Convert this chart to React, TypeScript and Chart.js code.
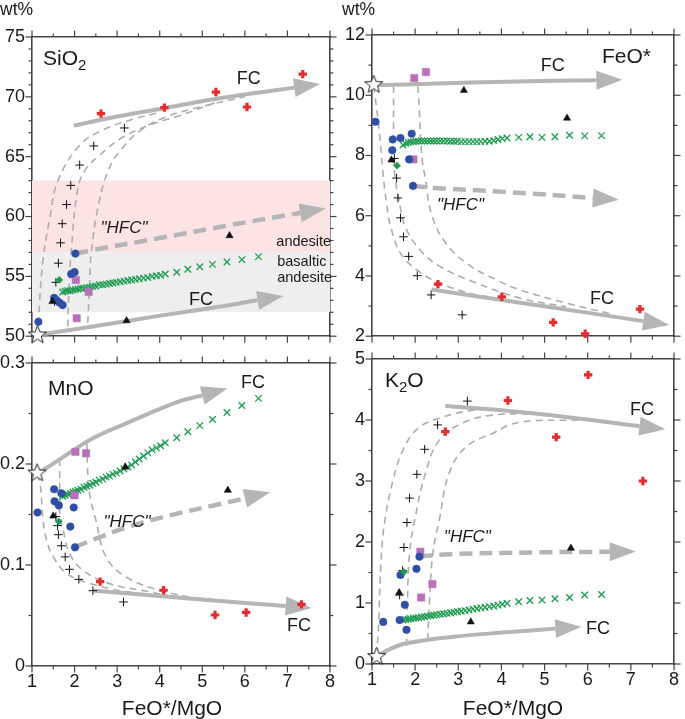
import React, { useEffect, useRef } from "react";
import { Chart, registerables } from "chart.js";

Chart.register(...registerables);

const FONT = '"Liberation Sans", Arial, Helvetica, sans-serif';
Chart.defaults.font.family = FONT;

const AXIS = "#444444";
const RED = "#e42d2f";
const BLUE = "#2f4fa5";
const PURPLE = "#b96fba";
const GREEN = "#1f9b52";
const GRAY = "#b5b5b5";
const DASHGRAY = "#adadad";

type P = [number, number];

// ---------- shared model FeO*/MgO values (green x series)
const MODEL_X = [1.72, 1.78, 1.84, 1.9, 1.96, 2.02, 2.08, 2.15, 2.22, 2.29, 2.36, 2.43, 2.5, 2.58, 2.66, 2.74, 2.82, 2.9, 2.98, 3.07, 3.16, 3.25, 3.34, 3.43, 3.52, 3.62, 3.72, 3.82, 3.92, 4.02, 4.13, 4.4, 4.66, 4.94, 5.24, 5.58, 5.93, 6.32];

// ---------- SiO2
const SIO2_MODEL = [53.7, 53.75, 53.8, 53.8, 53.85, 53.9, 53.95, 54.0, 54.0, 54.05, 54.1, 54.15, 54.2, 54.3, 54.3, 54.35, 54.4, 54.45, 54.5, 54.55, 54.6, 54.65, 54.7, 54.75, 54.8, 54.85, 54.9, 55.0, 55.05, 55.1, 55.2, 55.35, 55.6, 55.8, 56.0, 56.2, 56.4, 56.65];
const SIO2_RED: P[] = [[2.62, 68.6], [4.11, 69.1], [5.32, 70.4], [6.05, 69.15], [7.36, 71.9]];
const SIO2_PLUS: P[] = [[1.53, 52.9], [1.56, 54.5], [1.62, 56.1], [1.67, 57.8], [1.71, 59.4], [1.81, 61.0], [1.91, 62.6], [2.12, 64.3], [2.45, 65.9], [3.17, 67.4]];
const SIO2_BLUE: P[] = [[1.15, 51.2], [2.02, 56.9], [1.92, 55.2], [2.0, 55.35], [1.52, 53.2], [1.58, 53.0], [1.65, 52.8], [1.72, 52.6]];
const SIO2_PURPLE: P[] = [[2.03, 54.7], [2.33, 53.7], [2.05, 51.5]];
const SIO2_DIAMOND: P[] = [[1.64, 54.7]];
const SIO2_TRI: P[] = [[1.48, 52.9], [3.22, 51.3], [5.64, 58.4]];
const SIO2_STAR: P[] = [[1.13, 50.1]];
const SIO2_FC_UP: P[] = [[1.98, 67.6], [3.0, 68.35], [4.1, 69.05], [5.2, 69.75], [6.2, 70.3], [7.16, 70.77]];
const SIO2_FC_LOW: P[] = [[1.13, 50.1], [2.5, 50.85], [3.98, 51.7], [5.2, 52.35], [6.3, 53.0]];
const SIO2_HFC: P[] = [[2.02, 56.9], [2.35, 57.15], [4.0, 58.2], [5.6, 59.25], [7.3, 60.3]];
const SIO2_C1: P[] = [[1.16, 51.0], [1.18, 53.0], [1.26, 56.4], [1.42, 59.9], [1.61, 63.0], [2.12, 65.95], [2.65, 67.2], [3.35, 68.1], [4.0, 68.7]];
const SIO2_C2: P[] = [[1.84, 50.8], [1.87, 54.0], [1.93, 57.5], [2.08, 62.4], [2.27, 64.0], [2.58, 65.1], [3.12, 66.6], [3.81, 67.7], [4.44, 68.4], [5.3, 69.5]];
const SIO2_C3: P[] = [[2.31, 51.1], [2.35, 54.0], [2.39, 56.9], [2.58, 61.3], [2.81, 64.0], [3.05, 65.4], [3.51, 67.1], [4.13, 68.3], [5.0, 69.2], [6.0, 70.0]];
const SIO2_BANDS = [
  { lo: 57, hi: 63, color: "#fde4e4" },
  { lo: 52, hi: 57, color: "#eeeeee" },
];

// ---------- FeO*
const FEO_MODEL = [8.35, 8.4, 8.43, 8.45, 8.46, 8.47, 8.47, 8.48, 8.48, 8.48, 8.48, 8.48, 8.48, 8.48, 8.48, 8.48, 8.47, 8.47, 8.47, 8.46, 8.46, 8.46, 8.46, 8.46, 8.46, 8.47, 8.47, 8.5, 8.53, 8.56, 8.58, 8.6, 8.62, 8.6, 8.62, 8.67, 8.65, 8.66];
const FEO_RED: P[] = [[2.53, 3.73], [4.01, 3.31], [5.2, 2.46], [5.94, 2.08], [7.21, 2.9]];
const FEO_PLUS: P[] = [[1.52, 7.9], [1.57, 7.25], [1.6, 6.59], [1.66, 5.93], [1.73, 5.3], [1.85, 4.65], [2.05, 4.01], [2.37, 3.37], [3.09, 2.71]];
const FEO_BLUE: P[] = [[1.08, 9.12], [1.48, 8.53], [1.66, 8.58], [1.92, 8.72], [1.47, 8.17], [1.86, 7.87], [1.95, 6.99]];
const FEO_PURPLE: P[] = [[1.98, 10.57], [2.25, 10.77], [1.96, 7.87]];
const FEO_DIAMOND: P[] = [[1.58, 7.66]];
const FEO_TRI: P[] = [[1.45, 7.85], [3.13, 10.16], [5.52, 9.24]];
const FEO_STAR: P[] = [[1.04, 10.35]];
const FEO_FC_UP: P[] = [[1.04, 10.33], [2.5, 10.39], [4.1, 10.45], [5.2, 10.48], [6.2, 10.5]];
const FEO_FC_LOW: P[] = [[2.38, 3.55], [3.3, 3.35], [4.4, 3.12], [5.9, 2.8], [7.29, 2.5]];
const FEO_HFC: P[] = [[1.95, 6.99], [2.45, 6.92], [4.1, 6.79], [6.12, 6.59]];
const FEO_C1: P[] = [[1.04, 10.3], [1.07, 9.98], [1.17, 8.78], [1.25, 7.5], [1.33, 6.48], [1.44, 5.6], [1.67, 4.73], [2.05, 4.19], [2.51, 3.8], [3.28, 3.42], [4.2, 3.2]];
const FEO_C2: P[] = [[1.5, 10.3], [1.5, 9.98], [1.5, 8.8], [1.52, 7.5], [1.63, 6.48], [1.78, 5.6], [2.13, 4.84], [2.59, 4.3], [3.36, 3.8], [4.44, 3.26], [5.5, 2.98]];
const FEO_C3: P[] = [[2.06, 10.3], [2.08, 9.98], [2.16, 7.9], [2.25, 7.14], [2.36, 6.15], [2.67, 5.17], [3.21, 4.4], [3.9, 3.86], [4.44, 3.53], [5.5, 3.1], [6.6, 2.72]];

// ---------- MnO
const MNO_MODEL = [0.168, 0.169, 0.17, 0.171, 0.172, 0.173, 0.174, 0.175, 0.177, 0.178, 0.179, 0.181, 0.182, 0.184, 0.185, 0.187, 0.188, 0.19, 0.191, 0.193, 0.195, 0.197, 0.199, 0.202, 0.205, 0.208, 0.211, 0.214, 0.216, 0.218, 0.221, 0.226, 0.232, 0.238, 0.244, 0.251, 0.258, 0.265];
const MNO_RED: P[] = [[2.6, 0.0835], [4.09, 0.075], [5.3, 0.0505], [6.03, 0.053], [7.33, 0.061]];
const MNO_PLUS: P[] = [[1.56, 0.148], [1.6, 0.139], [1.62, 0.13], [1.69, 0.119], [1.78, 0.108], [1.88, 0.0957], [2.1, 0.0858], [2.43, 0.0746], [3.15, 0.0634]];
const MNO_BLUE: P[] = [[1.13, 0.152], [1.52, 0.175], [1.53, 0.163], [1.69, 0.171], [1.63, 0.159], [1.98, 0.157], [1.9, 0.138], [2.01, 0.1175]];
const MNO_PURPLE: P[] = [[2.02, 0.212], [2.27, 0.2106], [2.0, 0.169]];
const MNO_DIAMOND: P[] = [[1.63, 0.143]];
const MNO_TRI: P[] = [[1.5, 0.1485], [3.19, 0.197], [5.6, 0.174]];
const MNO_STAR: P[] = [[1.12, 0.191]];
const MNO_FC_UP: P[] = [[1.12, 0.191], [1.26, 0.194], [1.81, 0.209], [2.43, 0.2254], [3.2, 0.24], [4.44, 0.2617], [5.0, 0.268]];
const MNO_FC_LOW: P[] = [[2.45, 0.0746], [3.5, 0.071], [4.91, 0.066], [6.96, 0.0594]];
const MNO_HFC: P[] = [[2.01, 0.1175], [2.12, 0.1198], [3.51, 0.141], [6.0, 0.166]];
const MNO_C1: P[] = [[1.12, 0.19], [1.19, 0.181], [1.26, 0.145], [1.34, 0.125], [1.5, 0.108], [1.81, 0.0918], [2.35, 0.0818], [3.2, 0.0736], [4.2, 0.069]];
const MNO_C2: P[] = [[1.65, 0.205], [1.65, 0.174], [1.66, 0.148], [1.73, 0.135], [1.88, 0.1116], [2.19, 0.095], [2.81, 0.0818], [3.74, 0.0736], [4.6, 0.067], [5.4, 0.064]];
const MNO_C3: P[] = [[2.29, 0.22], [2.3, 0.2], [2.35, 0.171], [2.5, 0.1445], [2.74, 0.108], [3.2, 0.0884], [3.98, 0.0752], [4.91, 0.067], [6.0, 0.063]];

// ---------- K2O
const K2O_MODEL = [0.72, 0.73, 0.735, 0.74, 0.75, 0.755, 0.76, 0.77, 0.775, 0.785, 0.79, 0.8, 0.81, 0.815, 0.825, 0.83, 0.84, 0.85, 0.86, 0.865, 0.875, 0.885, 0.9, 0.91, 0.92, 0.93, 0.94, 0.95, 0.965, 0.98, 0.995, 1.02, 1.04, 1.05, 1.07, 1.09, 1.13, 1.14];
const K2O_RED: P[] = [[2.7, 3.81], [4.15, 4.32], [5.27, 3.72], [6.01, 4.74], [7.28, 3.0]];
const K2O_PLUS: P[] = [[1.64, 1.13], [1.71, 1.53], [1.74, 1.91], [1.81, 2.32], [1.87, 2.72], [2.04, 3.11], [2.22, 3.52], [2.52, 3.92], [3.21, 4.31]];
const K2O_BLUE: P[] = [[1.26, 0.69], [1.64, 0.72], [1.8, 0.56], [1.76, 0.97], [1.66, 1.46], [2.03, 1.56], [2.1, 1.76]];
const K2O_PURPLE: P[] = [[2.12, 1.84], [2.4, 1.31], [2.14, 1.09]];
const K2O_DIAMOND: P[] = [[1.74, 1.51]];
const K2O_TRI: P[] = [[1.63, 1.17], [3.29, 0.69], [5.61, 1.9]];
const K2O_STAR: P[] = [[1.11, 0.12]];
const K2O_FC_UP: P[] = [[2.7, 4.23], [4.0, 4.16], [5.5, 4.05], [7.2, 3.9]];
const K2O_FC_LOW: P[] = [[1.11, 0.12], [1.4, 0.24], [1.8, 0.34], [2.95, 0.45], [4.1, 0.52], [5.25, 0.58]];
const K2O_HFC: P[] = [[2.1, 1.76], [2.79, 1.8], [4.86, 1.83], [6.51, 1.84]];
const K2O_C1: P[] = [[1.11, 0.14], [1.12, 0.3], [1.14, 0.45], [1.22, 1.81], [1.3, 2.36], [1.49, 3.02], [1.72, 3.51], [2.06, 3.86], [2.56, 4.03], [3.33, 4.16], [4.0, 4.18]];
const K2O_C2: P[] = [[1.8, 0.3], [1.82, 1.0], [1.87, 1.81], [1.99, 2.36], [2.26, 3.18], [2.56, 3.67], [3.1, 3.95], [3.79, 4.08], [4.8, 4.1]];
const K2O_C3: P[] = [[2.29, 0.39], [2.33, 1.0], [2.41, 1.81], [2.56, 2.36], [2.79, 3.13], [3.18, 3.56], [3.79, 3.78], [4.4, 3.96], [5.8, 4.0]];

// ---------- axes
const X_MIN = 1, X_MAX = 8, X_STEP = 1, X_MINOR = 0.5;

// ---------- helpers
const xy = (pts: P[]) => pts.map(([x, y]) => ({ x, y }));
const zip = (xs: number[], ys: number[]) => xs.map((x, i) => ({ x, y: ys[i] }));

let starImg: HTMLCanvasElement | null = null;
function getStar() {
  if (starImg) return starImg;
  const r = 9.5;
  const s = Math.ceil(r * 2 + 4);
  const c = document.createElement("canvas");
  c.width = s; c.height = s;
  const g = c.getContext("2d")!;
  g.beginPath();
  for (let i = 0; i < 10; i++) {
    const a = -Math.PI / 2 + (i * Math.PI) / 5;
    const rr = i % 2 === 0 ? r : r * 0.42;
    g.lineTo(s / 2 + rr * Math.cos(a), s / 2 + rr * Math.sin(a));
  }
  g.closePath();
  g.fillStyle = "#fff"; g.fill();
  g.strokeStyle = "#222"; g.lineWidth = 1; g.stroke();
  starImg = c;
  return c;
}

type TextItem = { t: string; x: number; y: number; size: number; align?: CanvasTextAlign; base?: CanvasTextBaseline; italic?: boolean };
type TitlePart = { t: string; size: number; dy?: number };

type PanelData = {
  left: number; top: number;
  pad: { l: number; r: number; t: number; b: number };
  plotW: number; plotH: number;
  yMin: number; yMax: number; yStep: number; yMinor: number;
  xLabels: boolean;
  model: number[]; red: P[]; plus: P[]; blue: P[]; purple: P[]; diamond: P[]; tri: P[]; star: P[];
  fc: P[][]; hfc: P[]; curves: P[][];
  bands?: { lo: number; hi: number; color: string }[];
  texts: TextItem[];
  title: { parts: TitlePart[]; dx: number; dy: number; right?: boolean };
};

function markerSet(pts: P[], style: any, extra: any) {
  return { type: "scatter", data: xy(pts), showLine: false, pointStyle: style, clip: false, ...extra };
}

function lineSet(pts: P[], extra: any) {
  return {
    type: "line", data: xy(pts), pointRadius: 0, pointHoverRadius: 0, fill: false,
    tension: 0.4, borderCapStyle: "butt", order: 10, ...extra,
  };
}

function buildDatasets(d: PanelData) {
  const sets: any[] = [];
  d.curves.forEach((c) => sets.push(lineSet(c, { borderColor: DASHGRAY, borderWidth: 1.6, borderDash: [7, 5], order: 12 })));
  d.fc.forEach((c) => sets.push(lineSet(c, { borderColor: GRAY, borderWidth: 4, arrow: { len: 26, half: 9.5 }, order: 11 })));
  sets.push(lineSet(d.hfc, { borderColor: GRAY, borderWidth: 4.5, borderDash: [13, 7], arrow: { len: 26, half: 9.5 }, order: 11 }));
  sets.push({ type: "scatter", data: zip(MODEL_X, d.model), showLine: false, pointStyle: "crossRot", pointRadius: 4.6, borderColor: GREEN, backgroundColor: GREEN, borderWidth: 1.3, order: 6 });
  sets.push(markerSet(d.plus, "cross", { pointRadius: 4.3, borderColor: "#111", borderWidth: 1, order: 5 }));
  sets.push(markerSet(d.red, "cross", { pointRadius: 4.2, borderColor: RED, borderWidth: 3.2, order: 4 }));
  sets.push(markerSet(d.blue, "circle", { pointRadius: 3.8, borderColor: BLUE, backgroundColor: BLUE, borderWidth: 0.5, order: 3 }));
  sets.push(markerSet(d.purple, "rect", { pointRadius: 5.2, borderColor: PURPLE, backgroundColor: PURPLE, borderWidth: 0.5, order: 3 }));
  sets.push(markerSet(d.tri, "triangle", { pointRadius: 4.2, borderColor: "#111", backgroundColor: "#111", borderWidth: 0.5, order: 2 }));
  sets.push(markerSet(d.diamond, "rectRot", { pointRadius: 3.6, borderColor: GREEN, backgroundColor: GREEN, borderWidth: 0.5, order: 2 }));
  sets.push(markerSet(d.star, getStar(), { pointRadius: 10, order: 1 }));
  return sets;
}

function buildConfig(d: PanelData): any {
  const tickFont = { family: FONT, size: 18 };
  const border = { display: true, color: AXIS, width: 1.6 };
  const grid = { display: false, drawTicks: false, tickLength: 0 };

  const bandPlugin = {
    id: "bands",
    beforeDatasetsDraw(chart: any) {
      if (!d.bands) return;
      const { ctx, chartArea: a, scales } = chart;
      ctx.save();
      d.bands.forEach((b) => {
        const y1 = scales.y.getPixelForValue(b.hi);
        const y2 = scales.y.getPixelForValue(b.lo);
        ctx.fillStyle = b.color;
        ctx.fillRect(a.left, y1, a.right - a.left, y2 - y1);
      });
      ctx.restore();
    },
  };

  const arrowPlugin = {
    id: "arrows",
    afterDatasetDraw(chart: any, args: any) {
      const ds = chart.data.datasets[args.index];
      if (!ds.arrow) return;
      const pts = args.meta.data;
      const n = pts.length;
      if (n < 2) return;
      const b = pts[n - 1], p = pts[n - 2];
      const dx = b.x - p.x, dy = b.y - p.y;
      const len = Math.hypot(dx, dy) || 1;
      const ux = dx / len, uy = dy / len;
      const L = ds.arrow.len, H = ds.arrow.half;
      const tx = b.x + ux * L, ty = b.y + uy * L;
      const ctx = chart.ctx;
      ctx.save();
      ctx.beginPath();
      ctx.moveTo(tx, ty);
      ctx.lineTo(b.x - uy * H, b.y + ux * H);
      ctx.lineTo(b.x + uy * H, b.y - ux * H);
      ctx.closePath();
      ctx.fillStyle = ds.borderColor;
      ctx.fill();
      ctx.restore();
    },
  };

  const textPlugin = {
    id: "texts",
    afterDatasetsDraw(chart: any) {
      const { ctx, chartArea: a, scales } = chart;
      ctx.save();
      ctx.fillStyle = "#1a1a1a";
      d.texts.forEach((t) => {
        ctx.font = `${t.italic ? "italic " : ""}${t.size}px ${FONT}`;
        ctx.textAlign = t.align || "center";
        ctx.textBaseline = t.base || "middle";
        ctx.fillText(t.t, scales.x.getPixelForValue(t.x), scales.y.getPixelForValue(t.y));
      });
      // title with subscripts
      ctx.textAlign = "left";
      ctx.textBaseline = "alphabetic";
      let total = 0;
      d.title.parts.forEach((p) => { ctx.font = `${p.size}px ${FONT}`; total += ctx.measureText(p.t).width; });
      let x = d.title.right ? a.right - d.title.dx - total : a.left + d.title.dx;
      const y = a.top + d.title.dy;
      d.title.parts.forEach((p) => {
        ctx.font = `${p.size}px ${FONT}`;
        ctx.fillText(p.t, x, y + (p.dy || 0));
        x += ctx.measureText(p.t).width;
      });
      ctx.restore();
    },
  };

  const tickPlugin = {
    id: "tickmarks",
    afterDraw(chart: any) {
      const { ctx, chartArea: a, scales } = chart;
      ctx.save();
      ctx.strokeStyle = AXIS;
      ctx.lineWidth = 1.2;
      const seg = (x1: number, y1: number, x2: number, y2: number) => {
        ctx.beginPath(); ctx.moveTo(x1, y1); ctx.lineTo(x2, y2); ctx.stroke();
      };
      const nx = Math.round((X_MAX - X_MIN) / X_MINOR);
      const perX = Math.round(X_STEP / X_MINOR);
      for (let k = 0; k <= nx; k++) {
        const v = X_MIN + k * X_MINOR;
        const L = k % perX === 0 ? 6.5 : 3.5;
        const px = scales.x.getPixelForValue(v);
        seg(px, a.bottom, px, a.bottom + L);
        seg(px, a.top, px, a.top - L);
      }
      const ny = Math.round((d.yMax - d.yMin) / d.yMinor);
      const perY = Math.round(d.yStep / d.yMinor);
      for (let k = 0; k <= ny; k++) {
        const v = d.yMin + k * d.yMinor;
        const L = k % perY === 0 ? 6.5 : 3.5;
        const py = scales.y.getPixelForValue(v);
        seg(a.left, py, a.left - L, py);
        seg(a.right, py, a.right + L, py);
      }
      ctx.restore();
    },
  };

  return {
    type: "scatter",
    data: { datasets: buildDatasets(d) },
    options: {
      responsive: false,
      maintainAspectRatio: false,
      animation: false,
      devicePixelRatio: 1,
      events: [],
      layout: { padding: 0 },
      plugins: { legend: { display: false }, tooltip: { enabled: false }, title: { display: false } },
      scales: {
        x: {
          type: "linear", position: "bottom", min: X_MIN, max: X_MAX,
          ticks: { stepSize: X_STEP, display: d.xLabels, font: tickFont, color: "#1a1a1a", padding: 5, maxRotation: 0, autoSkip: false },
          grid, border,
          afterFit: (s: any) => { s.height = d.pad.b; },
        },
        xTop: {
          type: "linear", position: "top", min: X_MIN, max: X_MAX,
          ticks: { stepSize: X_STEP, display: false }, grid, border,
          afterFit: (s: any) => { s.height = d.pad.t; },
        },
        y: {
          type: "linear", position: "left", min: d.yMin, max: d.yMax,
          ticks: { stepSize: d.yStep, font: tickFont, color: "#1a1a1a", padding: 7, autoSkip: false },
          grid, border,
          afterFit: (s: any) => { s.width = d.pad.l; },
        },
        yRight: {
          type: "linear", position: "right", min: d.yMin, max: d.yMax,
          ticks: { stepSize: d.yStep, display: false }, grid, border,
          afterFit: (s: any) => { s.width = d.pad.r; },
        },
      },
    },
    plugins: [bandPlugin, arrowPlugin, textPlugin, tickPlugin],
  };
}

const PANELS: PanelData[] = [
  {
    left: 0, top: 0, pad: { l: 32, r: 8, t: 37, b: 14 }, plotW: 301, plotH: 303,
    yMin: 50, yMax: 75, yStep: 5, yMinor: 1, xLabels: false,
    model: SIO2_MODEL, red: SIO2_RED, plus: SIO2_PLUS, blue: SIO2_BLUE, purple: SIO2_PURPLE, diamond: SIO2_DIAMOND, tri: SIO2_TRI, star: SIO2_STAR,
    fc: [SIO2_FC_UP, SIO2_FC_LOW], hfc: SIO2_HFC, curves: [SIO2_C1, SIO2_C2, SIO2_C3], bands: SIO2_BANDS,
    texts: [
      { t: "FC", x: 6.09, y: 71.49, size: 18 },
      { t: "\"HFC\"", x: 3.16, y: 59.0, size: 17, italic: true },
      { t: "andesite", x: 6.74, y: 57.5, size: 14.5, align: "left", base: "alphabetic" },
      { t: "basaltic", x: 6.76, y: 55.86, size: 14.5, align: "left", base: "alphabetic" },
      { t: "andesite", x: 6.76, y: 54.54, size: 14.5, align: "left", base: "alphabetic" },
      { t: "FC", x: 4.97, y: 53.0, size: 18 },
    ],
    title: { parts: [{ t: "SiO", size: 21 }, { t: "2", size: 15, dy: 5 }], dx: 11, dy: 28 },
  },
  {
    left: 340, top: 0, pad: { l: 32, r: 10, t: 35, b: 14 }, plotW: 303, plotH: 305,
    yMin: 2, yMax: 12, yStep: 2, yMinor: 1, xLabels: false,
    model: FEO_MODEL, red: FEO_RED, plus: FEO_PLUS, blue: FEO_BLUE, purple: FEO_PURPLE, diamond: FEO_DIAMOND, tri: FEO_TRI, star: FEO_STAR,
    fc: [FEO_FC_UP, FEO_FC_LOW], hfc: FEO_HFC, curves: [FEO_C1, FEO_C2, FEO_C3],
    texts: [
      { t: "FC", x: 5.19, y: 10.98, size: 18 },
      { t: "\"HFC\"", x: 3.05, y: 6.34, size: 17, italic: true },
      { t: "FC", x: 6.33, y: 3.23, size: 18 },
    ],
    title: { parts: [{ t: "FeO*", size: 21 }], dx: 23, dy: 28, right: true },
  },
  {
    left: 0, top: 345, pad: { l: 32, r: 8, t: 18, b: 30 }, plotW: 301, plotH: 303,
    yMin: 0, yMax: 0.3, yStep: 0.1, yMinor: 0.05, xLabels: true,
    model: MNO_MODEL, red: MNO_RED, plus: MNO_PLUS, blue: MNO_BLUE, purple: MNO_PURPLE, diamond: MNO_DIAMOND, tri: MNO_TRI, star: MNO_STAR,
    fc: [MNO_FC_UP, MNO_FC_LOW], hfc: MNO_HFC, curves: [MNO_C1, MNO_C2, MNO_C3],
    texts: [
      { t: "FC", x: 6.19, y: 0.28, size: 18 },
      { t: "\"HFC\"", x: 3.23, y: 0.142, size: 17, italic: true },
      { t: "FC", x: 7.27, y: 0.0391, size: 18 },
    ],
    title: { parts: [{ t: "MnO", size: 21 }], dx: 16, dy: 32 },
  },
  {
    left: 340, top: 341, pad: { l: 32, r: 9, t: 18, b: 30 }, plotW: 304, plotH: 305,
    yMin: 0, yMax: 5, yStep: 1, yMinor: 0.5, xLabels: true,
    model: K2O_MODEL, red: K2O_RED, plus: K2O_PLUS, blue: K2O_BLUE, purple: K2O_PURPLE, diamond: K2O_DIAMOND, tri: K2O_TRI, star: K2O_STAR,
    fc: [K2O_FC_UP, K2O_FC_LOW], hfc: K2O_HFC, curves: [K2O_C1, K2O_C2, K2O_C3],
    texts: [
      { t: "FC", x: 7.26, y: 4.16, size: 18 },
      { t: "\"HFC\"", x: 3.21, y: 2.07, size: 17, italic: true },
      { t: "FC", x: 6.24, y: 0.58, size: 18 },
    ],
    title: { parts: [{ t: "K", size: 21 }, { t: "2", size: 15, dy: 5 }, { t: "O", size: 21 }], dx: 13, dy: 28 },
  },
];

function Panel({ d }: { d: PanelData }) {
  const ref = useRef<HTMLCanvasElement>(null);
  const W = d.pad.l + d.plotW + d.pad.r;
  const H = d.pad.t + d.plotH + d.pad.b;
  useEffect(() => {
    const chart = new Chart(ref.current as HTMLCanvasElement, buildConfig(d));
    return () => chart.destroy();
  }, []);
  return (
    <canvas
      ref={ref}
      width={W}
      height={H}
      style={{ position: "absolute", left: d.left, top: d.top, width: W, height: H }}
    />
  );
}

const labelStyle: React.CSSProperties = {
  position: "absolute", fontFamily: FONT, color: "#1a1a1a", whiteSpace: "nowrap", lineHeight: "1",
};

export default function App() {
  return (
    <div style={{ position: "absolute", left: 0, top: 0, width: 685, height: 719, background: "#fff", overflow: "hidden" }}>
      {PANELS.map((d, i) => (
        <Panel key={i} d={d} />
      ))}
      <div style={{ ...labelStyle, left: 0, top: 1, fontSize: 17.5 }}>wt%</div>
      <div style={{ ...labelStyle, left: 342, top: 1, fontSize: 17.5 }}>wt%</div>
      <div style={{ ...labelStyle, left: 72, width: 200, top: 697, fontSize: 21, textAlign: "center" }}>FeO*/MgO</div>
      <div style={{ ...labelStyle, left: 413, width: 200, top: 697, fontSize: 21, textAlign: "center" }}>FeO*/MgO</div>
    </div>
  );
}
